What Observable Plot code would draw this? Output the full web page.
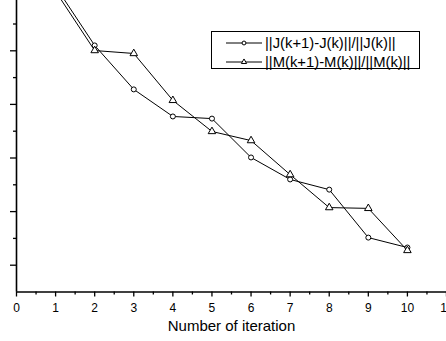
<!DOCTYPE html>
<html>
<head>
<meta charset="utf-8">
<script src="https://cdn.jsdelivr.net/npm/d3@7"></script>
<script src="https://cdn.jsdelivr.net/npm/@observablehq/plot@0.6"></script>
<style>
  html, body { margin: 0; padding: 0; background: white; }
  #wrap { position: relative; width: 446px; height: 341px; overflow: hidden; font-family: "Liberation Sans", Arial, sans-serif; }
  #legend { position: absolute; left: 211px; top: 31px; width: 207px; height: 36px; border: 1px solid black; background: white; font-size: 14.8px; }
  .row { position: absolute; left: 0; height: 18px; display: flex; align-items: center; }
  .row svg { margin-left: 14px; }
  .row span { margin-left: 3px; white-space: nowrap; }
</style>
</head>
<body>
<div id="wrap"></div>
<script>
const iterations = [1, 2, 3, 4, 5, 6, 7, 8, 9, 10];
const jValues = [11.40, 9.20, 7.56, 6.55, 6.47, 5.02, 4.20, 3.82, 2.03, 1.66];
const mValues = [11.22, 9.01, 8.90, 7.15, 5.99, 5.65, 4.38, 3.15, 3.12, 1.55];
const xMajorTicks = [0, 1, 2, 3, 4, 5, 6, 7, 8, 9, 10, 11];
const xMinorTicks = [0.5, 1.5, 2.5, 3.5, 4.5, 5.5, 6.5, 7.5, 8.5, 9.5, 10.5];
const yMajorTicks = [1, 3, 5, 7, 9];
const yMinorTicks = [2, 4, 6, 8, 10];
const seriesNames = ["||J(k+1)-J(k)||/||J(k)||", "||M(k+1)-M(k)||/||M(k)||"];
const xLabel = "Number of iteration";

const jData = iterations.map((x, i) => ({x, y: jValues[i]}));
const mData = iterations.map((x, i) => ({x, y: mValues[i]}));

const chart = Plot.plot({
  width: 446,
  height: 341,
  marginLeft: 16,
  marginRight: 0,
  marginTop: 0,
  marginBottom: 49.5,
  style: {background: "white", color: "black", fontFamily: "'Liberation Sans', Arial, sans-serif"},
  x: {domain: [0, 11]},
  y: {domain: [0, 10.877]},
  marks: [
    Plot.line(jData, {x: "x", y: "y", stroke: "black", strokeWidth: 1, clip: true}),
    Plot.line(mData, {x: "x", y: "y", stroke: "black", strokeWidth: 1, clip: true}),
    Plot.dot(jData.filter(d => d.x > 1), {x: "x", y: "y", r: 2.5, stroke: "black", fill: "white", strokeWidth: 1}),
    Plot.dot(mData.filter(d => d.x > 1), {x: "x", y: "y", r: 2.8, symbol: "triangle", stroke: "black", fill: "white", strokeWidth: 1}),
    Plot.axisX({ticks: xMajorTicks, tickSize: 5, tickPadding: 6, fontSize: 12, label: null, strokeWidth: 1.3}),
    Plot.axisX({ticks: xMinorTicks, tickSize: 3, tickFormat: () => "", label: null, strokeWidth: 1.3}),
    Plot.axisY({ticks: yMajorTicks, tickSize: 6, tickFormat: () => "", label: null, strokeWidth: 1.3}),
    Plot.axisY({ticks: yMinorTicks, tickSize: 3, tickFormat: () => "", label: null, strokeWidth: 1.3}),
    Plot.ruleY([0], {stroke: "black", strokeWidth: 1.6}),
    Plot.ruleX([0], {stroke: "black", strokeWidth: 1.6}),
    Plot.text([xLabel], {frameAnchor: "bottom", dy: 34.5, lineAnchor: "middle", fontSize: 15, fill: "black"})
  ]
});
const wrap = document.getElementById("wrap");
wrap.appendChild(chart);

// legend
const legend = document.createElement("div");
legend.id = "legend";
const symbols = ["circle", "triangle"];
seriesNames.forEach((name, i) => {
  const row = document.createElement("div");
  row.className = "row";
  row.style.top = (2 + i * 18.5) + "px";
  const ns = "http://www.w3.org/2000/svg";
  const s = document.createElementNS(ns, "svg");
  s.setAttribute("width", 36); s.setAttribute("height", 10);
  const l = document.createElementNS(ns, "line");
  l.setAttribute("x1", 0); l.setAttribute("x2", 36); l.setAttribute("y1", 5); l.setAttribute("y2", 5);
  l.setAttribute("stroke", "black"); l.setAttribute("stroke-width", 1);
  s.appendChild(l);
  const sym = d3.symbol(symbols[i] === "circle" ? d3.symbolCircle : d3.symbolTriangle, 12)();
  const p = document.createElementNS(ns, "path");
  p.setAttribute("d", sym);
  p.setAttribute("transform", "translate(18,5)");
  p.setAttribute("fill", "white"); p.setAttribute("stroke", "black"); p.setAttribute("stroke-width", 1);
  s.appendChild(p);
  row.appendChild(s);
  const t = document.createElement("span");
  t.textContent = name;
  row.appendChild(t);
  legend.appendChild(row);
});
wrap.appendChild(legend);
</script>
</body>
</html>
